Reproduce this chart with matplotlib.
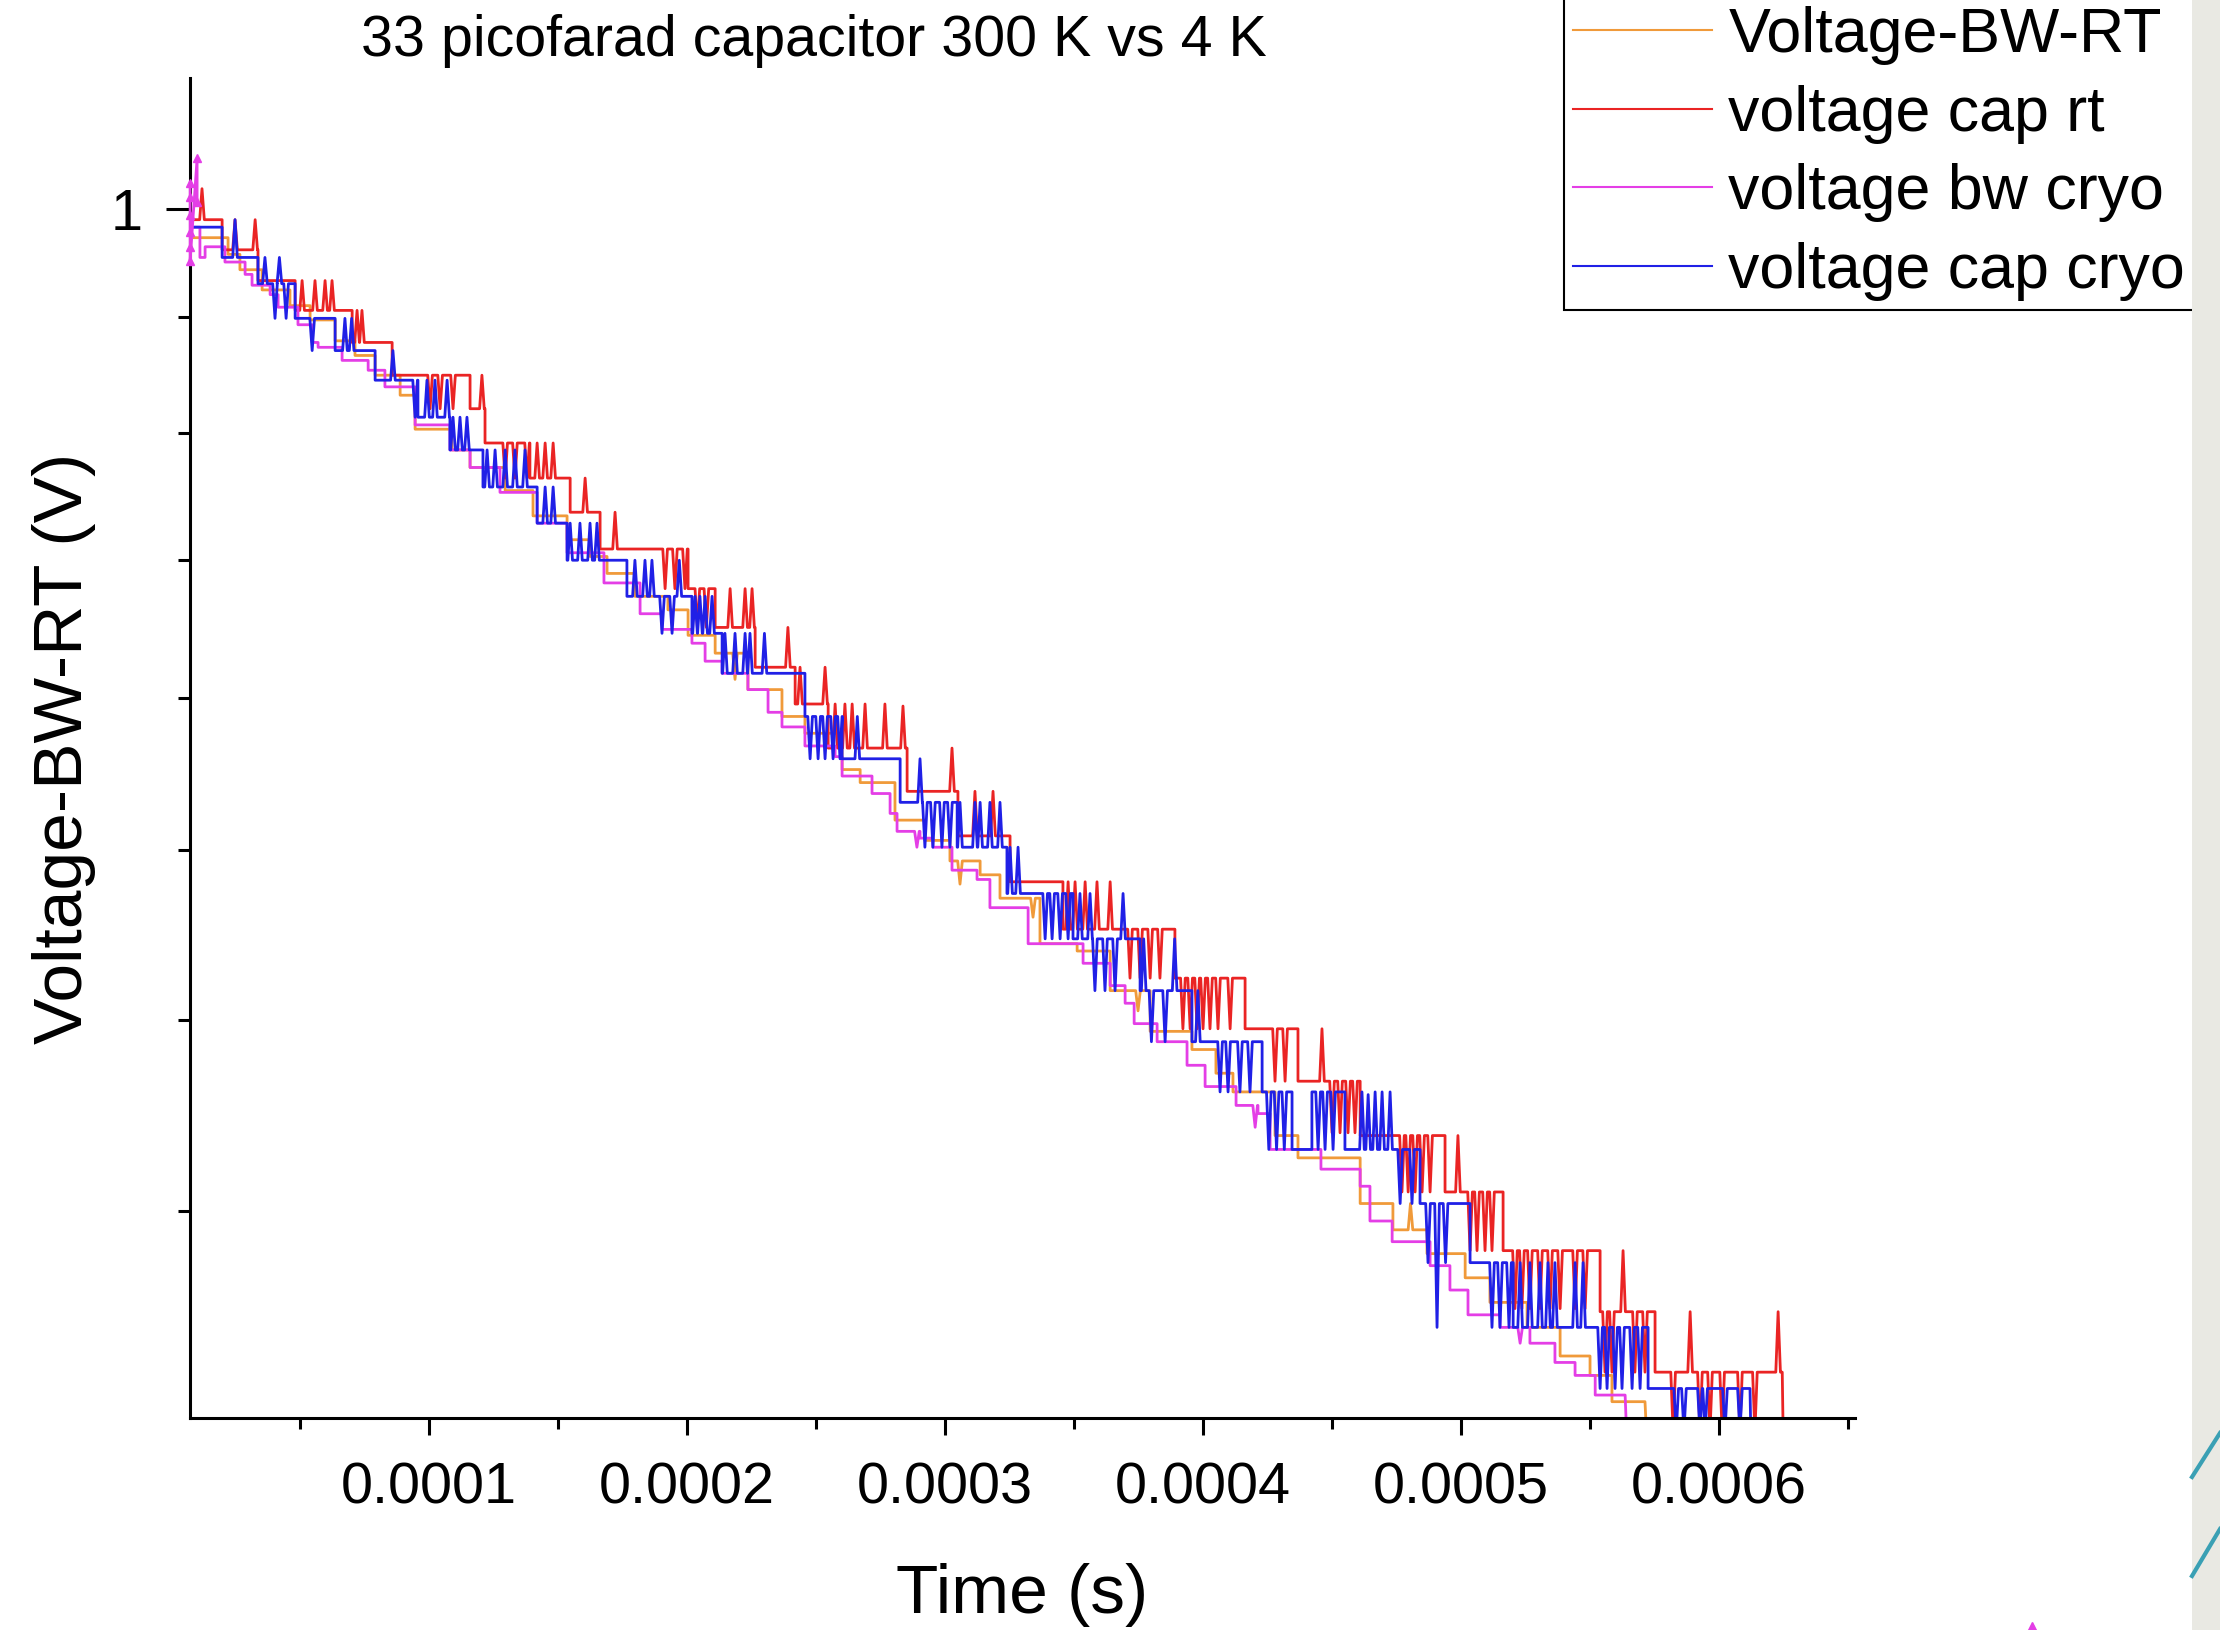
import numpy as np
import matplotlib
matplotlib.use("Agg")
import matplotlib.pyplot as plt
from matplotlib.patches import Rectangle
from matplotlib.lines import Line2D
from matplotlib.ticker import FixedLocator, NullFormatter

plt.rcParams['font.family'] = ['Liberation Sans', 'DejaVu Sans']

# times in microseconds, voltages in volts
# each trace: level start times + level values, plus short toggles (spikes)

# voltage cap rt (red)
red_t = [8.1, 19.8, 33.7, 48.1, 70.2, 85.7, 115.9, 121.7, 139.1, 154.7, 166.3, 200.4, 210.9, 226.4,
         241.9, 254.7, 285.3, 305.0, 325.2, 345.7, 389.1, 416.3, 436.8, 460.9, 493.8, 516.3, 553.9, 575.2]
red_v = [0.993, 0.973, 0.953, 0.934, 0.914, 0.894, 0.874, 0.854, 0.834, 0.815, 0.795, 0.774, 0.754, 0.734,
         0.716, 0.695, 0.675, 0.655, 0.635, 0.615, 0.595, 0.575, 0.555, 0.535, 0.515, 0.495, 0.475, 0.456]
red_spike_t = [12.0, 24.8, 32.6, 50.8, 55.8, 59.7, 62.4, 72.1, 74.0, 100.4, 104.3, 109.3, 120.5, 129.5, 133.3,
               138.0, 141.9, 145.0, 148.1, 160.5, 172.1, 191.5, 195.3, 199.2, 204.0, 207.5, 216.7, 222.5, 225.2,
               239.1, 243.8, 253.5, 257.4, 261.2, 264.0, 269.0, 276.7, 283.7, 302.7, 311.6, 318.6, 347.7, 350.4,
               354.3, 358.9, 364.0, 371.7, 375.6, 379.5, 383.3, 392.2, 395.0, 397.7, 400.0, 402.7, 405.8, 410.5,
               427.9, 431.8, 446.1, 450.0, 453.1, 456.2, 458.9, 477.1, 479.5, 482.2, 484.9, 488.0, 498.8, 503.5,
               506.2, 509.3, 512.0, 520.9, 523.6, 526.7, 530.6, 534.5, 538.4, 544.2, 548.1, 555.8, 558.5, 562.8,
               567.4, 571.3, 582.2, 588.8, 592.6, 596.5, 601.2, 608.1, 613.9, 622.9]
red_spike_v = [1.014, 0.993, 0.993, 0.953, 0.953, 0.953, 0.953, 0.934, 0.934, 0.874, 0.874, 0.874, 0.894, 0.834, 0.834,
               0.834, 0.854, 0.854, 0.854, 0.834, 0.815, 0.774, 0.774, 0.774, 0.754, 0.754, 0.774, 0.774, 0.774,
               0.754, 0.734, 0.734, 0.716, 0.716, 0.716, 0.716, 0.716, 0.715, 0.695, 0.675, 0.675, 0.635, 0.635,
               0.635, 0.635, 0.635, 0.595, 0.595, 0.595, 0.595, 0.575, 0.575, 0.575, 0.575, 0.575, 0.575, 0.575,
               0.555, 0.555, 0.575, 0.536, 0.536, 0.536, 0.536, 0.515, 0.515, 0.515, 0.515, 0.515, 0.535, 0.495,
               0.495, 0.495, 0.495, 0.476, 0.476, 0.476, 0.476, 0.476, 0.476, 0.476, 0.476, 0.456, 0.456, 0.495,
               0.456, 0.456, 0.438, 0.475, 0.438, 0.438, 0.438, 0.438, 0.438, 0.475]
red_end = (624.5, 0.430)

# voltage cap cryo (blue)
blue_t = [8.1, 19.8, 33.7, 48.1, 63.6, 79.1, 95.7, 108.1, 120.9, 141.9, 153.5, 176.7, 201.9, 213.6, 245.7,
          260.1, 282.6, 304.7, 324.0, 349.6, 375.6, 395.7, 422.9, 434.5, 442.2, 455.0, 484.1, 503.5, 520.2, 572.5]
blue_v = [0.988, 0.968, 0.951, 0.929, 0.909, 0.891, 0.869, 0.850, 0.829, 0.809, 0.789, 0.770, 0.751, 0.731, 0.710,
          0.690, 0.670, 0.650, 0.630, 0.611, 0.590, 0.570, 0.551, 0.530, 0.551, 0.530, 0.511, 0.491, 0.470, 0.451]
blue_spike_t = [24.8, 36.4, 40.3, 42.0, 44.6, 54.7, 67.4, 70.0, 86.0, 94.6, 99.2, 102.3, 107.0, 109.3, 112.0,
                114.7, 122.5, 125.6, 129.5, 133.3, 137.2, 145.0, 148.1, 154.7, 158.5, 162.4, 165.1, 179.8, 183.7,
                186.4, 190.3, 194.2, 197.0, 203.1, 205.0, 207.0, 209.7, 214.7, 218.6, 222.5, 224.4, 230.0, 247.7,
                250.8, 253.5, 256.6, 259.3, 266.0, 290.3, 292.2, 295.3, 298.8, 301.9, 305.8, 311.6, 313.6, 317.4,
                321.3, 325.2, 328.3, 338.8, 341.5, 344.6, 347.7, 352.3, 356.2, 358.1, 362.0, 365.9, 369.0, 377.0,
                380.0, 385.3, 389.0, 398.0, 406.6, 409.7, 414.3, 418.2, 425.5, 428.5, 431.5, 444.6, 447.3, 450.4,
                461.6, 464.0, 466.7, 469.4, 472.5, 476.4, 481.0, 487.2, 490.7, 494.0, 512.0, 515.1, 518.6, 522.9,
                526.7, 530.6, 533.7, 536.4, 544.2, 547.3, 553.9, 556.6, 559.7, 562.4, 566.3, 569.4, 583.4, 586.4,
                592.6, 594.6, 602.3, 608.1]
blue_spike_v = [0.993, 0.968, 0.929, 0.968, 0.929, 0.909, 0.929, 0.929, 0.909, 0.869, 0.891, 0.891, 0.891, 0.869, 0.869,
                0.869, 0.850, 0.850, 0.850, 0.850, 0.850, 0.829, 0.829, 0.809, 0.809, 0.809, 0.809, 0.789, 0.789,
                0.789, 0.751, 0.751, 0.789, 0.770, 0.770, 0.770, 0.770, 0.751, 0.751, 0.751, 0.751, 0.751, 0.690,
                0.690, 0.690, 0.690, 0.690, 0.710, 0.690, 0.650, 0.650, 0.650, 0.650, 0.670, 0.670, 0.670, 0.670,
                0.670, 0.650, 0.650, 0.611, 0.611, 0.611, 0.611, 0.630, 0.630, 0.590, 0.590, 0.590, 0.630, 0.611,
                0.570, 0.570, 0.611, 0.590, 0.551, 0.551, 0.551, 0.551, 0.530, 0.530, 0.530, 0.530, 0.530, 0.530,
                0.551, 0.550, 0.551, 0.551, 0.551, 0.511, 0.511, 0.491, 0.470, 0.491, 0.470, 0.470, 0.470, 0.491,
                0.491, 0.491, 0.491, 0.491, 0.491, 0.491, 0.451, 0.451, 0.451, 0.451, 0.451, 0.451, 0.438, 0.438,
                0.438, 0.438, 0.438, 0.438]
blue_end = (612.0, 0.430)

# Voltage-BW-RT (orange)
orange_t = [8.1, 22.1, 26.7, 35.3, 46.1, 53.9, 63.6, 71.3, 79.1, 88.8, 94.6, 108.9, 115.9, 129.5, 140.3, 153.5,
            162.4, 169.0, 179.8, 192.6, 200.4, 210.9, 223.6, 236.8, 245.7, 260.1, 267.1, 280.6, 292.2, 301.9,
            313.6, 321.3, 336.8, 351.2, 364.0, 379.5, 395.7, 405.0, 411.6, 427.9, 436.8, 460.9, 473.6, 486.8,
            501.6, 511.2, 525.6, 538.4, 550.0, 558.5]
orange_v = [0.981, 0.970, 0.960, 0.947, 0.937, 0.928, 0.915, 0.906, 0.894, 0.882, 0.862, 0.850, 0.840, 0.827, 0.813,
            0.800, 0.791, 0.782, 0.770, 0.763, 0.750, 0.741, 0.723, 0.710, 0.702, 0.685, 0.679, 0.662, 0.653, 0.644,
            0.638, 0.628, 0.609, 0.606, 0.590, 0.574, 0.567, 0.558, 0.551, 0.535, 0.527, 0.511, 0.502, 0.494,
            0.486, 0.478, 0.470, 0.461, 0.455, 0.447]
orange_spike_t = [218.6, 305.8, 334.1, 374.8, 480.4]
orange_spike_v = [0.728, 0.634, 0.620, 0.582, 0.511]
orange_end = (571.3, 0.439)

# voltage bw cryo (magenta)
mag_t = [8.1, 11.2, 13.2, 20.9, 28.7, 31.4, 38.4, 41.5, 49.2, 54.7, 57.0, 66.3, 76.4, 82.9, 94.6, 108.1, 115.9,
         127.5, 141.9, 153.5, 167.8, 181.8, 190.3, 201.9, 207.0, 213.6, 223.6, 231.4, 236.8, 245.7, 257.4, 260.1,
         271.7, 278.7, 281.4, 290.3, 295.3, 302.7, 312.4, 317.4, 332.2, 353.5, 364.0, 369.8, 373.3, 382.2, 393.8,
         400.8, 412.8, 421.3, 426.0, 445.7, 460.9, 464.7, 473.3, 488.0, 495.7, 502.7, 515.1, 526.7, 536.4, 544.2,
         552.0]
mag_v = [0.988, 0.968, 0.975, 0.965, 0.957, 0.950, 0.944, 0.936, 0.925, 0.914, 0.911, 0.903, 0.897, 0.887, 0.8645,
         0.850, 0.840, 0.826, 0.809, 0.793, 0.777, 0.761, 0.753, 0.746, 0.737, 0.731, 0.723, 0.712, 0.705, 0.696,
         0.691, 0.682, 0.674, 0.665, 0.657, 0.654, 0.650, 0.640, 0.636, 0.624, 0.609, 0.601, 0.592, 0.585, 0.577,
         0.570, 0.561, 0.553, 0.546, 0.543, 0.530, 0.523, 0.517, 0.505, 0.498, 0.490, 0.482, 0.474, 0.470, 0.465,
         0.459, 0.455, 0.449]
mag_spike_t = [289.1, 420.2, 522.9]
mag_spike_v = [0.650, 0.538, 0.465]
mag_end = (563.6, 0.439)
# marker cluster at the very start of the magenta trace
mag_start_t = [7.4, 7.4, 7.4, 7.4, 7.4, 7.4, 10.1, 10.1]
mag_start_v = [1.018, 1.008, 0.996, 0.985, 0.975, 0.966, 1.035, 1.005]

x_major = [1e-4, 2e-4, 3e-4, 4e-4, 5e-4, 6e-4]
x_labels = ['0.0001', '0.0002', '0.0003', '0.0004', '0.0005', '0.0006']
x_minor = [0.5e-4, 1.5e-4, 2.5e-4, 3.5e-4, 4.5e-4, 5.5e-4, 6.5e-4]

C_ORANGE = '#f09a3a'
C_RED = '#ea2424'
C_MAG = '#e43ee6'
C_BLUE = '#2020e6'


def trace(lvl_t, lvl_v, spk_t, spk_v, end, w=0.9):
    ts, vs = [], []
    for i in range(len(lvl_t)):
        t0, v0 = lvl_t[i], lvl_v[i]
        t1 = lvl_t[i + 1] if i + 1 < len(lvl_t) else end[0]
        ts.append(t0)
        vs.append(v0)
        for s, p in zip(spk_t, spk_v):
            if t0 <= s < t1:
                ts += [s - w, s, s + w]
                vs += [v0, p, v0]
        ts.append(t1)
        vs.append(v0)
    ts.append(end[0] + 0.5)
    vs.append(end[1])
    return np.array(ts) * 1e-6, np.array(vs)


fig = plt.figure(figsize=(22.2, 16.3), dpi=100)
ax = fig.add_axes([190 / 2220, 212 / 1630, 1665 / 2220, 1340 / 1630])

lw = 2.0
l_or, = ax.plot(*trace(orange_t, orange_v, orange_spike_t, orange_spike_v, orange_end),
                color=C_ORANGE, lw=lw, label='Voltage-BW-RT')
l_red, = ax.plot(*trace(red_t, red_v, red_spike_t, red_spike_v, red_end),
                 color=C_RED, lw=lw, label='voltage cap rt')
l_mag, = ax.plot(*trace(mag_t, mag_v, mag_spike_t, mag_spike_v, mag_end),
                 color=C_MAG, lw=lw, label='voltage bw cryo')
l_blue, = ax.plot(*trace(blue_t, blue_v, blue_spike_t, blue_spike_v, blue_end),
                  color=C_BLUE, lw=lw, label='voltage cap cryo')
ax.plot(np.array(mag_start_t) * 1e-6, mag_start_v, color=C_MAG, lw=lw, marker='^', ms=6,
        clip_on=False, zorder=5)

ax.set_yscale('log')
ax.set_xlim(7.35e-6, 652.7e-6)
ax.set_ylim(0.4421, 1.0927)

# Origin-style ln axis: major at 1, eight linear minor steps down to 1/e
y_minor = [1 - k * (1 - np.exp(-1)) / 9 for k in range(1, 8)]
ax.yaxis.set_major_locator(FixedLocator([1.0]))
ax.set_yticklabels(['1'])
ax.yaxis.set_minor_locator(FixedLocator(y_minor))
ax.yaxis.set_minor_formatter(NullFormatter())
ax.xaxis.set_major_locator(FixedLocator(x_major))
ax.set_xticklabels(x_labels)
ax.xaxis.set_minor_locator(FixedLocator(x_minor))
ax.xaxis.set_minor_formatter(NullFormatter())

for s in ['top', 'right']:
    ax.spines[s].set_visible(False)
for s in ['left', 'bottom']:
    ax.spines[s].set_linewidth(2.2)

ax.tick_params(which='both', direction='out', width=2.2)
ax.tick_params(axis='x', which='major', length=12, pad=19, labelsize=41.5)
ax.tick_params(axis='x', which='minor', length=8)
ax.tick_params(axis='y', which='major', length=17, pad=17, labelsize=41.5)
ax.tick_params(axis='y', which='minor', length=9)

ax.set_xlabel('Time (s)', fontsize=50, va='center')
ax.xaxis.set_label_coords(0.5, -0.132)
ax.set_ylabel('Voltage-BW-RT (V)', fontsize=50, va='center', ha='center')
ax.yaxis.set_label_coords(-0.0757, 0.5)

fig.text(814 / 2220, 1 - 56 / 1630, '33 picofarad capacitor 300 K vs 4 K', fontsize=41.3,
         ha='center', va='baseline')

leg = ax.legend(handles=[l_or, l_red, l_mag, l_blue], loc='lower left',
                bbox_to_anchor=(1564 / 2220, 1 - 310 / 1630), bbox_transform=fig.transFigure,
                fontsize=45.2, frameon=True, fancybox=False, edgecolor='black', framealpha=1,
                borderpad=0.15, handlelength=2.2, handletextpad=0.27, labelspacing=0.31,
                borderaxespad=0)
leg.get_frame().set_linewidth(1.5)
for h in leg.get_lines():
    h.set_linewidth(1.5)

# slide background strip on the right edge and its decoration
fig.add_artist(Rectangle((2192 / 2220, 0), 28 / 2220, 1, transform=fig.transFigure,
                         facecolor='#e9e9e3', edgecolor='none', zorder=10))
fig.add_artist(Line2D([2192 / 2220, 1.0], [1 - 1477 / 1630, 1 - 1433 / 1630],
                      transform=fig.transFigure, color='#3aa0b4', lw=3, zorder=11))
fig.add_artist(Line2D([2192 / 2220, 1.0], [1 - 1576 / 1630, 1 - 1529 / 1630],
                      transform=fig.transFigure, color='#3aa0b4', lw=3, zorder=11))
fig.add_artist(Line2D([2032 / 2220], [1 - 1626 / 1630], transform=fig.transFigure,
                      marker='^', ms=6, color=C_MAG, linestyle='none', zorder=11))

fig.savefig('out.png', dpi=100)
